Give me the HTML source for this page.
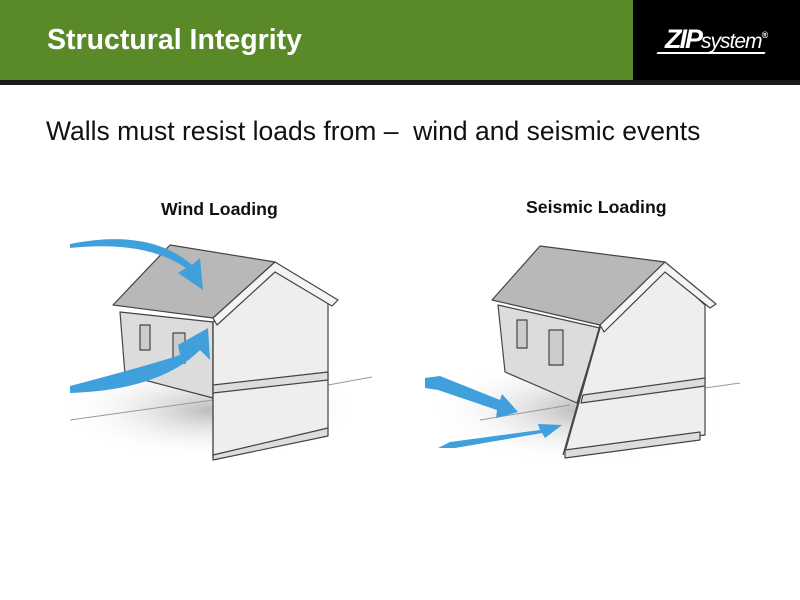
<!DOCTYPE html>
<html><head><meta charset="utf-8"><style>
body{margin:0;width:800px;height:600px;background:#fff;overflow:hidden;font-family:"Liberation Sans",Arial,sans-serif;position:relative}
.g{position:absolute;left:0;top:0;width:633px;height:80px;background:#5a8a28}
.b{position:absolute;left:633px;top:0;width:167px;height:80px;background:#000}
.l{position:absolute;left:0;top:80px;width:800px;height:5px;background:#1a1a1a}
.t{position:absolute;left:47px;top:24px;color:#fff;font-weight:bold;font-size:28.5px;white-space:nowrap}
.s{position:absolute;left:46px;top:116px;font-size:26.5px;color:#111;white-space:nowrap}
.lb{position:absolute;font-weight:bold;font-size:17.7px;color:#111;white-space:nowrap}
svg{position:absolute;left:0;top:0}
</style></head><body>
<div class="g"></div><div class="b"></div><div class="l"></div>
<div class="t">Structural Integrity</div>
<div style="position:absolute;left:665px;top:24px;color:#fff;font-style:italic;font-size:27px;font-weight:bold;letter-spacing:-2px;white-space:nowrap">ZIP<span style="font-weight:normal;font-size:21px;letter-spacing:-1px">system</span><sup style="font-size:9px">®</sup></div>
<div style="position:absolute;left:657px;top:52px;width:108px;height:2px;background:#fff;transform:skewX(-30deg)"></div>
<div class="s">Walls must resist loads from –&nbsp; wind and seismic events</div>
<div class="lb" style="left:161px;top:199px">Wind Loading</div>
<div class="lb" style="left:526px;top:197px">Seismic Loading</div>
<svg width="800" height="600" viewBox="0 0 800 600">
<defs><radialGradient id="sh"><stop offset="0" stop-color="#bbb"/><stop offset="1" stop-color="#fff" stop-opacity="0"/></radialGradient></defs>
<ellipse cx="210" cy="410" rx="150" ry="50" fill="url(#sh)"/>
<ellipse cx="580" cy="410" rx="150" ry="55" fill="url(#sh)"/>
<g stroke="#999" stroke-width="1">
<line x1="70" y1="420" x2="213" y2="400"/><line x1="328" y1="385" x2="372" y2="377"/>
<line x1="480" y1="420" x2="570" y2="405"/><line x1="705" y1="388" x2="740" y2="383"/>
</g>
<g stroke="#444" stroke-width="1.2" stroke-linejoin="round">
<polygon points="120,312 213,322 213,398 125,375" fill="#dcdcdc"/>
<polygon points="213,322 275,268 328,300 328,430 213,455" fill="#eee"/>
<polygon points="213,385 328,372 328,380 213,393" fill="#ddd"/>
<polygon points="213,455 328,428 328,436 213,460" fill="#ddd"/>
<polygon points="113,305 170,245 275,262 213,318" fill="#b8b8b8"/>
<polygon points="213,318 275,262 338,300 332,306 275,272 217,325" fill="#f4f4f4"/>
<rect x="140" y="325" width="10" height="25" fill="#ccc"/>
<rect x="173" y="333" width="12" height="30" fill="#ccc"/>
<line x1="213" y1="322" x2="213" y2="458"/>
<polygon points="498,305 600,328 577,403 505,372" fill="#dcdcdc"/>
<polygon points="600,328 665,268 705,305 705,435 565,452" fill="#eee"/>
<polygon points="583,395 705,378 705,386 581,403" fill="#ddd"/>
<polygon points="565,450 700,432 700,440 565,458" fill="#ddd"/>
<polygon points="492,300 540,246 665,262 600,325" fill="#b8b8b8"/>
<polygon points="600,325 665,262 716,304 710,308 665,272 604,332" fill="#f4f4f4"/>
<rect x="517" y="320" width="10" height="28" fill="#ccc"/>
<rect x="549" y="330" width="14" height="35" fill="#ccc"/>
<line x1="600" y1="325" x2="563" y2="455"/>
</g>
<g fill="#3fa0dc">
<path d="M70,244 Q150,228 192,265 L200,258 L203,290 L178,273 L186,268 Q145,240 70,248Z"/>
<path d="M70,386 Q150,365 180,355 L178,345 L208,328 L210,360 L200,350 Q160,390 70,393Z"/>
<path d="M425,378 L440,376 L500,400 L502,394 L518,412 L496,418 L497,410 L438,390 L425,388Z"/>
<path d="M438,448 L450,442 L540,430 L538,424 L562,425 L545,438 L542,433 L455,448 Z"/>
</g>
</svg>
</body></html>
